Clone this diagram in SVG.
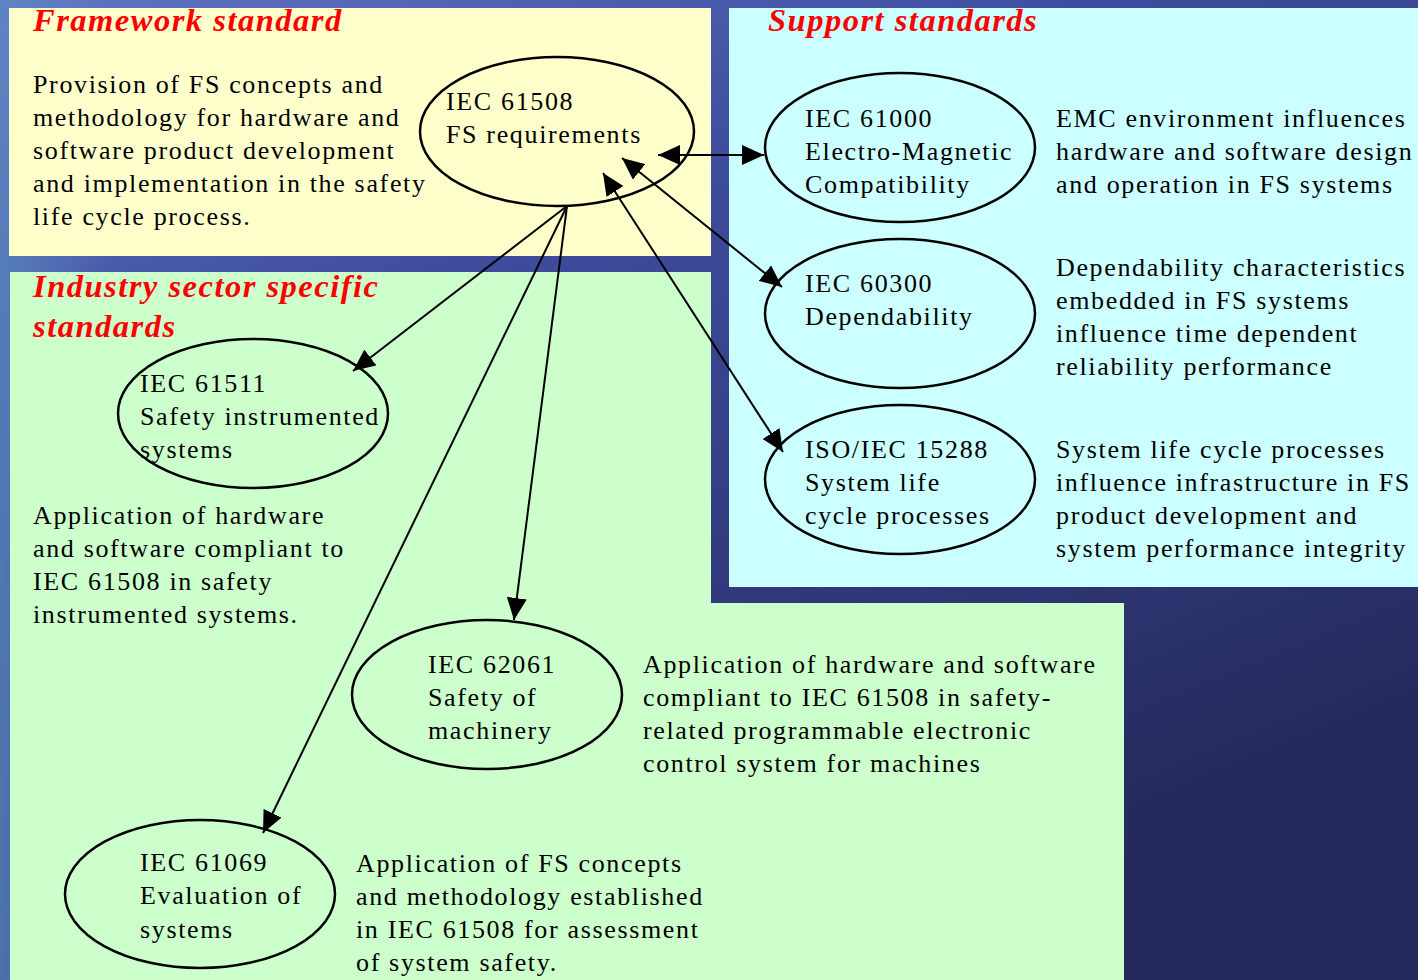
<svg xmlns="http://www.w3.org/2000/svg" width="1418" height="980" viewBox="0 0 1418 980">
<defs>
<linearGradient id="bg" x1="0" y1="0" x2="0.6" y2="1">
<stop offset="0" stop-color="#6274c4"/>
<stop offset="0.35" stop-color="#3d4c9c"/>
<stop offset="1" stop-color="#24285a"/>
</linearGradient>
<linearGradient id="bgl" x1="0" y1="0" x2="1" y2="0">
<stop offset="0" stop-color="#5a8cc0" stop-opacity="0.7"/>
<stop offset="0.08" stop-color="#5a8cc0" stop-opacity="0"/>
</linearGradient>
<marker id="ah" markerUnits="userSpaceOnUse" markerWidth="22" markerHeight="20" refX="22" refY="10" orient="auto-start-reverse" viewBox="0 0 22 20">
<path d="M0,0 L22,10 L0,20 z" fill="#000"/>
</marker>
<style>
.t{font-family:"Liberation Serif","Times New Roman",serif;font-size:26px;letter-spacing:1.65px;fill:#000}
.h{font-family:"Liberation Serif","Times New Roman",serif;font-size:32.5px;font-weight:bold;font-style:italic;letter-spacing:1.5px;fill:#ff0000}
.e{fill:none;stroke:#000;stroke-width:2.5}
.c{stroke:#000;stroke-width:2;fill:none;marker-end:url(#ah)}
.d{stroke:#000;stroke-width:2;fill:none;marker-end:url(#ah);marker-start:url(#ah)}
</style>
</defs>
<rect x="0" y="0" width="1418" height="980" fill="url(#bg)"/>
<rect x="0" y="0" width="1418" height="980" fill="url(#bgl)"/>
<g id="panels">
<rect x="9" y="8" width="702" height="248" fill="#ffffcc"/>
<rect x="729" y="8" width="689" height="579" fill="#ccffff"/>
<path d="M10,272 H711 V603 H1124 V980 H10 Z" fill="#ccffcc"/>
</g>
<g id="headers">
<text class="h" x="33" y="31">Framework standard</text>
<text class="h" x="768" y="31">Support standards</text>
<text class="h" x="33" y="297">Industry sector specific</text>
<text class="h" x="33" y="337">standards</text>
</g>
<g id="descriptions">
<text class="t" x="33" y="93">Provision of FS concepts and</text>
<text class="t" x="33" y="126">methodology for hardware and</text>
<text class="t" x="33" y="159">software product development</text>
<text class="t" x="33" y="192">and implementation in the safety</text>
<text class="t" x="33" y="225">life cycle process.</text>
<text class="t" x="1056" y="127">EMC environment influences</text>
<text class="t" x="1056" y="160">hardware and software design</text>
<text class="t" x="1056" y="193">and operation in FS systems</text>
<text class="t" x="1056" y="276">Dependability characteristics</text>
<text class="t" x="1056" y="309">embedded in FS systems</text>
<text class="t" x="1056" y="342">influence time dependent</text>
<text class="t" x="1056" y="375">reliability performance</text>
<text class="t" x="1056" y="458">System life cycle processes</text>
<text class="t" x="1056" y="491">influence infrastructure in FS</text>
<text class="t" x="1056" y="524">product development and</text>
<text class="t" x="1056" y="557">system performance integrity</text>
<text class="t" x="33" y="524">Application of hardware</text>
<text class="t" x="33" y="557">and software compliant to</text>
<text class="t" x="33" y="590">IEC 61508 in safety</text>
<text class="t" x="33" y="623">instrumented systems.</text>
<text class="t" x="643" y="673">Application of hardware and software</text>
<text class="t" x="643" y="706">compliant to IEC 61508 in safety-</text>
<text class="t" x="643" y="739">related programmable electronic</text>
<text class="t" x="643" y="772">control system for machines</text>
<text class="t" x="356" y="872">Application of FS concepts</text>
<text class="t" x="356" y="905">and methodology established</text>
<text class="t" x="356" y="938">in IEC 61508 for assessment</text>
<text class="t" x="356" y="971">of system safety.</text>
</g>
<g id="iec61508">
<ellipse class="e" cx="557" cy="131.5" rx="137" ry="74.5"/>
<text class="t" x="446" y="110">IEC 61508</text>
<text class="t" x="446" y="143">FS requirements</text>
</g>
<g id="iec61000">
<ellipse class="e" cx="900" cy="147.5" rx="135" ry="74.5"/>
<text class="t" x="805" y="127">IEC 61000</text>
<text class="t" x="805" y="160">Electro-Magnetic</text>
<text class="t" x="805" y="193">Compatibility</text>
</g>
<g id="iec60300">
<ellipse class="e" cx="900" cy="313.5" rx="135" ry="74.5"/>
<text class="t" x="805" y="292">IEC 60300</text>
<text class="t" x="805" y="325">Dependability</text>
</g>
<g id="iso15288">
<ellipse class="e" cx="900" cy="479.5" rx="135" ry="74.5"/>
<text class="t" x="805" y="458">ISO/IEC 15288</text>
<text class="t" x="805" y="491">System life</text>
<text class="t" x="805" y="524">cycle processes</text>
</g>
<g id="iec61511">
<ellipse class="e" cx="253" cy="413.5" rx="135" ry="74.5"/>
<text class="t" x="140" y="392">IEC 61511</text>
<text class="t" x="140" y="425">Safety instrumented</text>
<text class="t" x="140" y="458">systems</text>
</g>
<g id="iec62061">
<ellipse class="e" cx="487" cy="694.5" rx="135" ry="74.5"/>
<text class="t" x="428" y="673">IEC 62061</text>
<text class="t" x="428" y="706">Safety of</text>
<text class="t" x="428" y="739">machinery</text>
</g>
<g id="iec61069">
<ellipse class="e" cx="200" cy="894" rx="135" ry="74"/>
<text class="t" x="140" y="871">IEC 61069</text>
<text class="t" x="140" y="904">Evaluation of</text>
<text class="t" x="140" y="938">systems</text>
</g>
<g id="connectors">
<line class="c" x1="567" y1="206" x2="353" y2="371"/>
<line class="c" x1="567" y1="206" x2="514" y2="620"/>
<line class="c" x1="567" y1="206" x2="263" y2="833"/>
<line class="d" x1="658" y1="155" x2="764" y2="155"/>
<line class="d" x1="622" y1="158" x2="782" y2="287"/>
<line class="d" x1="603" y1="173" x2="783" y2="452"/>
</g>
</svg>
